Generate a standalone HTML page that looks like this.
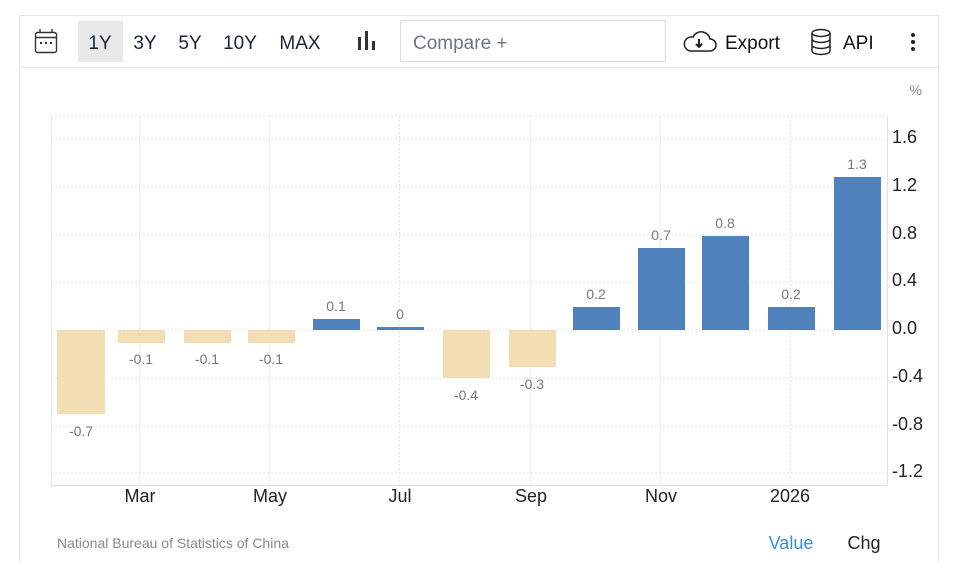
<!DOCTYPE html>
<html><head><meta charset="utf-8"><style>
body{margin:0;width:958px;height:562px;background:#fff;font-family:"Liberation Sans",sans-serif;position:relative;overflow:hidden}
svg{position:absolute;left:0;top:0}
</style></head><body>
<svg width="958" height="562" xmlns="http://www.w3.org/2000/svg" font-family="Liberation Sans, sans-serif">
<rect x="19.5" y="15.5" width="919" height="560" fill="none" stroke="#e6e6e6"/>
<line x1="19" y1="67.5" x2="939" y2="67.5" stroke="#e6e6e6"/>
<g stroke="#333" fill="none" stroke-width="1.4">
<rect x="35.5" y="32.5" width="21" height="20" rx="2"/>
<line x1="35.5" y1="37.5" x2="56.5" y2="37.5"/>
<line x1="40" y1="29" x2="40" y2="33"/><line x1="52" y1="29" x2="52" y2="33"/>
</g>
<g fill="#333"><rect x="40" y="42" width="2" height="2"/><rect x="45" y="42" width="2" height="2"/><rect x="50" y="42" width="2" height="2"/></g>
<rect x="78" y="21" width="45" height="41" fill="#e8e8e8"/>
<g font-size="19" fill="#1a2433">
<text x="100" y="49" text-anchor="middle">1Y</text>
<text x="145" y="49" text-anchor="middle">3Y</text>
<text x="190" y="49" text-anchor="middle">5Y</text>
<text x="240" y="49" text-anchor="middle">10Y</text>
<text x="300" y="49" text-anchor="middle">MAX</text>
</g>
<g fill="#333"><rect x="358" y="37" width="3" height="13"/><rect x="365" y="31" width="3" height="19"/><rect x="372" y="41" width="3" height="9"/></g>
<rect x="400.5" y="20.5" width="265" height="41" fill="#fff" stroke="#ddd"/>
<text x="413" y="49" font-size="19" fill="#6b7785">Compare +</text>
<path d="M690 51 h20 a6 6 0 0 0 0-12 a9 9 0 0 0-17-2 a7 7 0 0 0-3 14z" fill="none" stroke="#222" stroke-width="1.5"/>
<path d="M699 39 v8 M696 44 l3 3 l3-3" stroke="#222" stroke-width="2" fill="none"/>
<text x="725" y="49" font-size="19" fill="#111">Export</text>
<g stroke="#222" stroke-width="1.5" fill="none">
<ellipse cx="821" cy="33" rx="9" ry="3.5"/>
<path d="M812 33 v18 a9 3.5 0 0 0 18 0 v-18 M812 39 a9 3.5 0 0 0 18 0 M812 45 a9 3.5 0 0 0 18 0"/>
</g>
<text x="843" y="49" font-size="19" fill="#111">API</text>
<g fill="#222"><circle cx="913" cy="35" r="2"/><circle cx="913" cy="42" r="2"/><circle cx="913" cy="49" r="2"/></g>
<text x="922" y="95" font-size="14" fill="#888" text-anchor="end">%</text>
<g stroke="#e4e4e4" stroke-dasharray="2,2">
<line x1="51" y1="139" x2="887" y2="139"/><line x1="51" y1="187" x2="887" y2="187"/>
<line x1="51" y1="235" x2="887" y2="235"/><line x1="51" y1="282" x2="887" y2="282"/>
<line x1="51" y1="330" x2="887" y2="330"/><line x1="51" y1="378" x2="887" y2="378"/>
<line x1="51" y1="426" x2="887" y2="426"/><line x1="51" y1="473" x2="887" y2="473"/>
<line x1="139.5" y1="116" x2="139.5" y2="485"/><line x1="269.5" y1="116" x2="269.5" y2="485"/>
<line x1="399.5" y1="116" x2="399.5" y2="485"/><line x1="530.5" y1="116" x2="530.5" y2="485"/>
<line x1="660.5" y1="116" x2="660.5" y2="485"/><line x1="790.5" y1="116" x2="790.5" y2="485"/>
<line x1="51" y1="116" x2="887" y2="116"/>
</g>
<line x1="51.5" y1="116" x2="51.5" y2="485" stroke="#e8e8e8"/>
<line x1="51" y1="485.5" x2="887" y2="485.5" stroke="#e0e0e0"/>
<line x1="887.5" y1="116" x2="887.5" y2="485" stroke="#e0e0e0"/>
<g fill="#f3deb4">
<rect x="57" y="330" width="48" height="84"/>
<rect x="118" y="330" width="47" height="13"/>
<rect x="184" y="330" width="47" height="13"/>
<rect x="248" y="330" width="47" height="13"/>
<rect x="443" y="330" width="47" height="48"/>
<rect x="509" y="330" width="47" height="37"/>
</g>
<g fill="#4f81bd">
<rect x="313" y="319" width="47" height="11"/>
<rect x="377" y="327" width="47" height="3"/>
<rect x="573" y="307" width="47" height="23"/>
<rect x="638" y="248" width="47" height="82"/>
<rect x="702" y="236" width="47" height="94"/>
<rect x="768" y="307" width="47" height="23"/>
<rect x="834" y="177" width="47" height="153"/>
</g>
<g font-size="14" fill="#777" text-anchor="middle">
<text x="81" y="436">-0.7</text><text x="141" y="364">-0.1</text><text x="207" y="364">-0.1</text><text x="271" y="364">-0.1</text>
<text x="336" y="311">0.1</text><text x="400" y="319">0</text><text x="466" y="400">-0.4</text><text x="532" y="389">-0.3</text>
<text x="596" y="299">0.2</text><text x="661" y="240">0.7</text><text x="725" y="228">0.8</text><text x="791" y="299">0.2</text><text x="857" y="169">1.3</text>
</g>
<g font-size="18" fill="#222">
<text x="892" y="143">1.6</text><text x="892" y="191">1.2</text><text x="892" y="239">0.8</text><text x="892" y="286">0.4</text>
<text x="892" y="334">0.0</text><text x="892" y="382">-0.4</text><text x="892" y="430">-0.8</text><text x="892" y="477">-1.2</text>
</g>
<g font-size="18" fill="#222" text-anchor="middle">
<text x="140" y="502">Mar</text><text x="270" y="502">May</text><text x="400" y="502">Jul</text>
<text x="531" y="502">Sep</text><text x="661" y="502">Nov</text><text x="790" y="502">2026</text>
</g>
<text x="57" y="548" font-size="14" fill="#888">National Bureau of Statistics of China</text>
<text x="791" y="549" font-size="18" fill="#3a8be0" text-anchor="middle">Value</text>
<text x="864" y="549" font-size="18" fill="#222" text-anchor="middle">Chg</text>
</svg>
</body></html>
